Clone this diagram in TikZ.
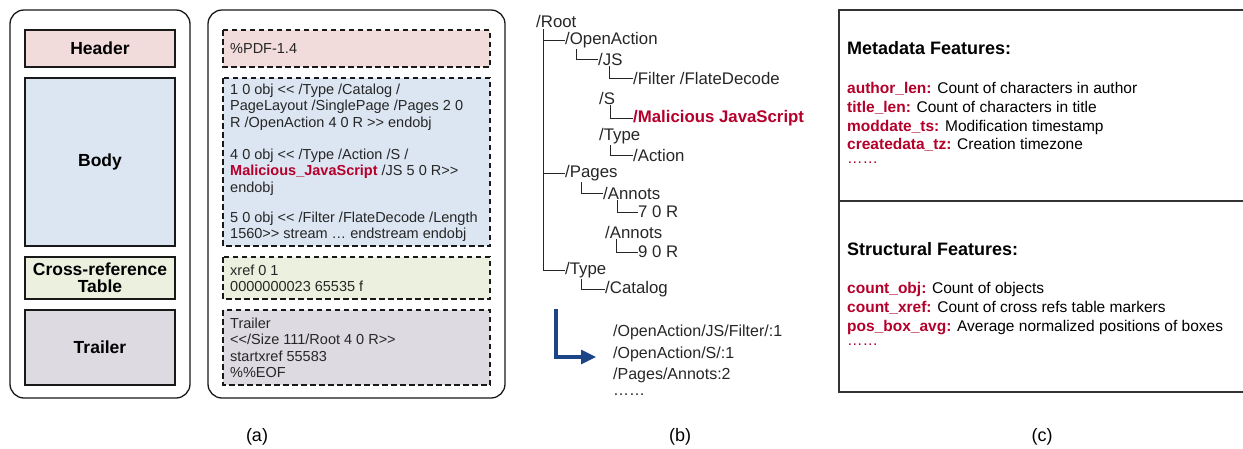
\documentclass[tikz,border=0pt]{standalone}
\usepackage{fontspec}
\setmainfont{Liberation Sans}
\usepackage{xcolor}
\usetikzlibrary{positioning,arrows.meta}
\definecolor{hdrpink}{HTML}{F2DCDB}
\definecolor{bodyblue}{HTML}{DCE6F2}
\definecolor{xrefgreen}{HTML}{EBF1DE}
\definecolor{trlgray}{HTML}{DEDAE2}
\definecolor{malred}{HTML}{B4002A}
\definecolor{flowblue}{HTML}{1C4587}
\newcommand{\midots}{\raisebox{0.3em}{……}}
\newcommand{\feat}[1]{\textcolor{malred}{\bfseries #1}}
\tikzset{
    secbox/.style={draw=black!90, line width=1.2pt, minimum width=150pt, align=center,
        font=\bfseries\fontsize{17.5}{20}\selectfont},
    rawbox/.style={draw=black!90, line width=1.1pt, dash pattern=on 5.5pt off 3.5pt},
    rawtxt/.style={anchor=north west, inner sep=0pt, align=left, text=black!85,
        font=\fontsize{14.5}{16.2}\selectfont},
    treetxt/.style={anchor=west, inner sep=0pt, text=black!85, font=\fontsize{16.8}{19}\selectfont},
    treeline/.style={line width=1pt, black!85},
    feattxt/.style={anchor=north west, inner sep=0pt, align=left, font=\fontsize{15.5}{18.8}\selectfont},
    feathd/.style={anchor=west, inner sep=0pt, font=\bfseries\fontsize{18}{20}\selectfont},
}
\begin{document}
\begin{tikzpicture}[x=1pt,y=-1pt]
    \useasboundingbox (0,0) rectangle (1243,448);
    % (a) file layout
    \draw[line width=1.3pt, black!90, rounded corners=14pt] (10,10) rectangle (190,398);
    \node[secbox, fill=hdrpink, minimum height=37pt] (hdr) at (100,48.5) {Header};
    \node[secbox, fill=bodyblue, minimum height=168pt] (body) at (100,162) {Body};
    \node[secbox, fill=xrefgreen, minimum height=42pt] (xref) at (100,278) {Cross-reference\\[-3pt]Table};
    \node[secbox, fill=trlgray, minimum height=75pt] (trl) at (100,347.5) {Trailer};

    \draw[line width=1.3pt, black!90, rounded corners=14pt] (208,10) rectangle (505,398);
    \fill[hdrpink] (223,30) rectangle (490,67);
    \draw[rawbox] (223,30) rectangle (490,67);
    \fill[bodyblue] (223,78) rectangle (490,246);
    \draw[rawbox] (223,78) rectangle (490,246);
    \fill[xrefgreen] (223,257) rectangle (490,299);
    \draw[rawbox] (223,257) rectangle (490,299);
    \fill[trlgray] (223,310) rectangle (490,385);
    \draw[rawbox] (223,310) rectangle (490,385);

    \node[rawtxt] (pdfver) at (230,43) {\%PDF-1.4};
    \node[rawtxt] (obj1) at (230,84) {1 0 obj <{}< /Type /Catalog /\\PageLayout /SinglePage /Pages 2 0\\R /OpenAction 4 0 R >{}> endobj};
    \node[rawtxt] (obj4) at (230,149) {4 0 obj <{}< /Type /Action /S /\\\textcolor{malred}{\bfseries Malicious\_JavaScript} /JS 5 0 R>{}>\\endobj};
    \node[rawtxt] (obj5) at (230,212) {5 0 obj <{}< /Filter /FlateDecode /Length\\1560>{}> stream … endstream endobj};
    \node[rawtxt] (xreftxt) at (230,265) {xref 0 1\\0000000023 65535 f};
    \node[rawtxt] (trltxt) at (230,318) {Trailer\\<{}</Size 111/Root 4 0 R>{}>\\startxref 55583\\\%\%EOF};

    % (b) object tree
    \node[treetxt] (root) at (536,21) {/Root};
    \node[treetxt] (oa) at (565,40) {/OpenAction};
    \node[treetxt] (js) at (598,59) {/JS};
    \node[treetxt] (flt) at (633,78) {/Filter /FlateDecode};
    \node[treetxt] (s) at (599,98) {/S};
    \node[treetxt, text=malred, font=\bfseries\fontsize{16.8}{19}\selectfont] (mal) at (633,118) {/Malicious JavaScript};
    \node[treetxt] (typa) at (599,136) {/Type};
    \node[treetxt] (act) at (633,155) {/Action};
    \node[treetxt] (pg) at (565,173) {/Pages};
    \node[treetxt] (ana) at (603,193) {/Annots};
    \node[treetxt] (rsev) at (638,212) {7 0 R};
    \node[treetxt] (anb) at (605,232) {/Annots};
    \node[treetxt] (rnin) at (638,252) {9 0 R};
    \node[treetxt] (typb) at (565,270) {/Type};
    \node[treetxt] (cat) at (605,289) {/Catalog};

    \coordinate (trunk) at ([xshift=7pt,yshift=-2pt]root.south west);
    \draw[treeline] (trunk) |- (typb.west);
    \draw[treeline] (trunk |- oa.west) -- (oa.west);
    \draw[treeline] (trunk |- pg.west) -- (pg.west);
    \draw[treeline] ([xshift=11pt,yshift=-1pt]oa.south west) |- (js.west);
    \draw[treeline] ([xshift=11pt,yshift=-1pt]js.south west) |- (flt.west);
    \draw[treeline] ([xshift=11pt,yshift=-1pt]s.south west) |- (mal.west);
    \draw[treeline] ([xshift=11pt,yshift=-1pt]typa.south west) |- (act.west);
    \draw[treeline] ([xshift=16pt,yshift=-1pt]pg.south west) |- (ana.west);
    \draw[treeline] ([xshift=14pt,yshift=-1pt]ana.south west) |- (rsev.west);
    \draw[treeline] ([xshift=11pt,yshift=-1pt]anb.south west) |- (rnin.west);
    \draw[treeline] ([xshift=16pt,yshift=-1pt]typb.south west) |- (cat.west);

    % flattened paths
    \node[anchor=north west, inner sep=0pt, align=left, text=black!85, font=\fontsize{16}{21.2}\selectfont]
        (flat) at (613,325) {/OpenAction/JS/Filter/:1\\/OpenAction/S/:1\\/Pages/Annots:2\\\midots};
    \coordinate (arrtop) at (556,309);
    \coordinate (arrend) at (596,357);
    \draw[flowblue, line width=3.2pt, -{Triangle[length=15pt,width=14pt]}] (arrtop) |- (arrend);

    % (c) features
    \draw[line width=1.4pt, black!80] (1244,10) -- (839,10) -- (839,392) -- (1244,392);
    \draw[line width=1.4pt, black!80] (839,201) -- (1244,201);
    \node[feathd] (metahd) at (847,48) {Metadata Features:};
    \node[feattxt] (metalist) at (847,82) {\feat{author\_len:} Count of characters in author\\
        \feat{title\_len:} Count of characters in title\\
        \feat{moddate\_ts:} Modification timestamp\\
        \feat{createdata\_tz:} Creation timezone\\
        \textcolor{malred}{\midots}};
    \node[feathd] (structhd) at (847,249) {Structural Features:};
    \node[feattxt] (structlist) at (847,282) {\feat{count\_obj:} Count of objects\\
        \feat{count\_xref:} Count of cross refs table markers\\
        \feat{pos\_box\_avg:} Average normalized positions of boxes\\
        \textcolor{malred}{\midots}};

    % captions
    \node[font=\fontsize{18}{20}\selectfont] (capa) at (257,437) {(a)};
    \node[font=\fontsize{18}{20}\selectfont] (capb) at (680,437) {(b)};
    \node[font=\fontsize{18}{20}\selectfont] (capc) at (1042,437) {(c)};
\end{tikzpicture}
\end{document}
